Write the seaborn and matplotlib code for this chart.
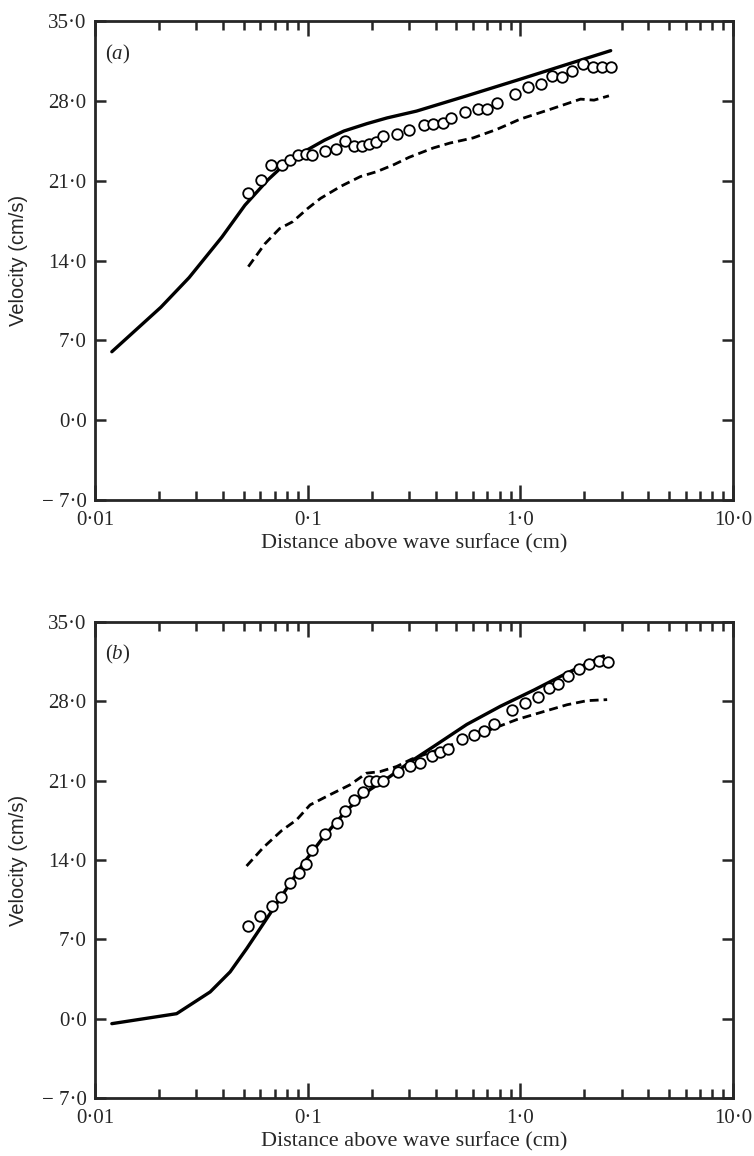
import numpy as np
import pandas as pd
import seaborn as sns
import matplotlib
matplotlib.use("Agg")
import matplotlib.pyplot as plt
from matplotlib.ticker import LogLocator, NullFormatter

# ---------------- data ----------------
# Panel (a)
a_solid_x = [0.012, 0.0204, 0.0277, 0.0395, 0.0507, 0.065, 0.0807, 0.1, 0.12, 0.148, 0.19,
             0.236, 0.325, 0.56, 1.0, 1.66, 2.66]
a_solid_y = [6.0, 9.9, 12.5, 16.05, 18.85, 21.07, 22.7, 23.72, 24.55, 25.35, 26.0,
             26.5, 27.1, 28.44, 29.9, 31.2, 32.4]
a_dash_x = [0.0526, 0.0629, 0.0738, 0.085, 0.1, 0.115, 0.143, 0.177, 0.212, 0.254, 0.30,
            0.39, 0.467, 0.60, 0.776, 1.0, 1.385, 1.92, 2.22, 2.61]
a_dash_y = [13.46, 15.46, 16.8, 17.4, 18.56, 19.45, 20.5, 21.36, 21.8, 22.4, 23.05,
            23.87, 24.3, 24.75, 25.5, 26.4, 27.26, 28.15, 28.06, 28.44]
a_obs_x = [0.0523, 0.0603, 0.0675, 0.0756, 0.0827, 0.0898, 0.098, 0.105, 0.12, 0.1355,
           0.15, 0.165, 0.18, 0.195, 0.21, 0.225, 0.262, 0.30, 0.352, 0.39, 0.432, 0.471,
           0.55, 0.63, 0.70, 0.78, 0.94, 1.09, 1.25, 1.41, 1.57, 1.75, 1.98, 2.2, 2.43, 2.68]
a_obs_y = [19.95, 21.1, 22.4, 22.4, 22.84, 23.28, 23.34, 23.28, 23.57, 23.78,
           24.46, 24.0, 24.08, 24.2, 24.4, 24.96, 25.1, 25.4, 25.85, 26.0, 26.1, 26.5,
           27.0, 27.26, 27.26, 27.85, 28.6, 29.24, 29.47, 30.2, 30.06, 30.6, 31.2, 30.95, 30.95, 30.95]

# Panel (b)
b_solid_x = [0.012, 0.0242, 0.0348, 0.0432, 0.0517, 0.062, 0.0769, 0.0955, 0.119, 0.153,
             0.196, 0.244, 0.30, 0.39, 0.56, 0.805, 1.16, 1.66, 2.46]
b_solid_y = [-0.44, 0.44, 2.36, 4.13, 6.19, 8.4, 11.05, 13.7, 16.06, 18.42,
             20.2, 21.37, 22.6, 24.0, 25.96, 27.56, 29.0, 30.5, 32.0]
b_dash_x = [0.0516, 0.062, 0.0755, 0.0887, 0.1026, 0.127, 0.158, 0.189, 0.219, 0.262, 0.308,
            0.45, 0.58, 0.723, 0.965, 1.29, 1.66, 2.06, 2.56]
b_dash_y = [13.47, 15.12, 16.6, 17.54, 18.86, 19.75, 20.63, 21.66, 21.8, 22.25, 22.9,
            24.0, 24.8, 25.5, 26.4, 27.1, 27.7, 28.06, 28.15]
b_obs_x = [0.0526, 0.0597, 0.0678, 0.0747, 0.0826, 0.091, 0.098, 0.1045, 0.121, 0.137,
           0.15, 0.165, 0.182, 0.195, 0.21, 0.227, 0.267, 0.302, 0.339, 0.384, 0.42, 0.457,
           0.532, 0.603, 0.672, 0.749, 0.914, 1.055, 1.206, 1.36, 1.51, 1.67, 1.88, 2.11,
           2.35, 2.58]
b_obs_y = [8.17, 9.05, 9.93, 10.7, 11.94, 12.88, 13.65, 14.88, 16.3, 17.24,
           18.36, 19.3, 20.04, 20.93, 20.93, 20.93, 21.8, 22.28, 22.6, 23.2, 23.5, 23.8,
           24.65, 25.0, 25.4, 25.96, 27.2, 27.85, 28.35, 29.17, 29.5, 30.2, 30.86, 31.27,
           31.56, 31.5]

x_ticks = [0.01, 0.1, 1.0, 10.0]
x_tick_labels = ["0·01", "0·1", "1·0", "10·0"]
y_ticks = [-7, 0, 7, 14, 21, 28, 35]
y_tick_labels = ["\u2212 7·0", "0·0", "7·0", "14·0", "21·0", "28·0", "35·0"]
panel_labels = ["a", "b"]
x_label = "Distance above wave surface (cm)"
y_label = "Velocity (cm/s)"

# ---------------- style ----------------
sns.set_style("ticks")
plt.rcParams["font.family"] = ["Liberation Serif", "DejaVu Serif"]
plt.rcParams["mathtext.fontset"] = "custom"
plt.rcParams["mathtext.rm"] = "Liberation Serif"
plt.rcParams["mathtext.it"] = "Liberation Serif:italic"

fig = plt.figure(figsize=(7.54, 11.56), dpi=100)
L, R = 95 / 754, 733 / 754
boxes = [(1 - 500 / 1156, 1 - 21 / 1156), (1 - 1098 / 1156, 1 - 622 / 1156)]

panels = [
    (a_solid_x, a_solid_y, a_dash_x, a_dash_y, a_obs_x, a_obs_y),
    (b_solid_x, b_solid_y, b_dash_x, b_dash_y, b_obs_x, b_obs_y),
]

for i, ((bot, top), data) in enumerate(zip(boxes, panels)):
    sx, sy, dx, dy, ox, oy = data
    ax = fig.add_axes([L, bot, R - L, top - bot])
    sns.lineplot(x=sx, y=sy, ax=ax, color="black", lw=2.4, sort=False)
    sns.lineplot(x=dx, y=dy, ax=ax, color="black", lw=2.0, sort=False,
                 linestyle=(0, (3.2, 1.8)))
    sns.scatterplot(x=ox, y=oy, ax=ax, marker="o", s=58, facecolor="white",
                    edgecolor="black", linewidth=1.3, zorder=5)
    ax.set_xscale("log")
    ax.set_xlim(0.01, 10.0)
    ax.set_ylim(-7, 35)
    ax.set_xticks(x_ticks)
    ax.set_xticklabels(x_tick_labels)
    ax.xaxis.set_minor_locator(LogLocator(base=10, subs=np.arange(2, 10)))
    ax.xaxis.set_minor_formatter(NullFormatter())
    ax.set_yticks(y_ticks)
    ax.set_yticklabels(y_tick_labels)
    ax.tick_params(which="both", direction="in", top=True, right=True,
                   labelsize=15, width=1.8)
    ax.tick_params(axis="x", which="major", length=11, pad=8)
    ax.tick_params(axis="y", which="major", length=8, pad=6)
    ax.tick_params(which="minor", length=6.5)
    for sp in ax.spines.values():
        sp.set_linewidth(2.0)
        sp.set_visible(True)
    ax.set_xlabel(x_label, fontsize=16, labelpad=3)
    ax.set_ylabel(y_label, fontsize=14.5, labelpad=10,
                  family=["Liberation Sans", "DejaVu Sans"])
    ax.text(0.015, 0.955, r"($\it{%s}$)" % panel_labels[i], transform=ax.transAxes,
            fontsize=15, ha="left", va="top")

fig.savefig("out.png", dpi=100)
